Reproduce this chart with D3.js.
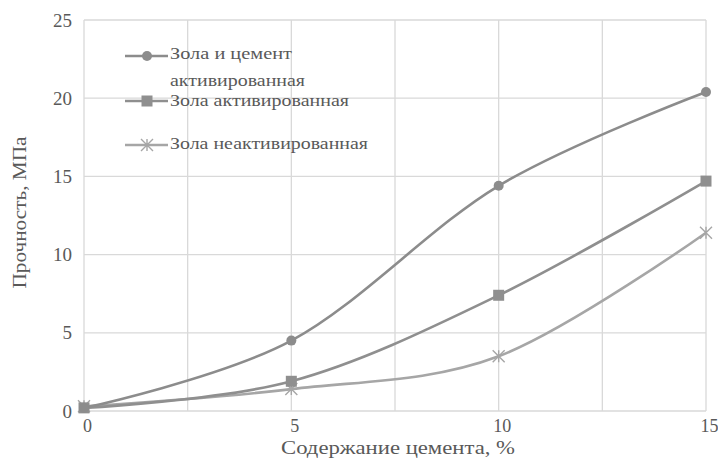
<!DOCTYPE html>
<html>
<head>
<meta charset="utf-8">
<script src="https://cdn.jsdelivr.net/npm/d3@7"></script>
<style>
  body { margin: 0; background: #fff; }
  svg text { font-family: "Times New Roman", "Liberation Serif", "DejaVu Serif", serif; }
</style>
</head>
<body>
<div id="chart"></div>
<script>
// data
var cement = [0, 5, 10, 15]
var ashCementActivated = [0.2, 4.5, 14.4, 20.4]
var ashActivated = [0.2, 1.9, 7.4, 14.7]
var ashNotActivated = [0.3, 1.4, 3.5, 11.4]
var xTicks = [0, 5, 10, 15]
var yTicks = [0, 5, 10, 15, 20, 25]
var seriesNames = ["Зола и цемент активированная", "Зола активированная", "Зола неактивированная"]

var W = 718, H = 459
var margin = {top: 20, right: 12, bottom: 48, left: 84}
var width = W - margin.left - margin.right,
    height = H - margin.top - margin.bottom

var svg = d3.select("#chart").append("svg")
    .attr("width", W).attr("height", H)
  .append("g")
    .attr("transform", "translate(" + margin.left + "," + margin.top + ")")

var x = d3.scaleLinear().domain([0, 15]).range([0, width])
var y = d3.scaleLinear().domain([0, 25]).range([height, 0])

// grid
svg.append("g").selectAll("line").data(d3.range(0, 15.01, 2.5)).enter().append("line")
  .attr("x1", d => x(d)).attr("x2", d => x(d)).attr("y1", 0).attr("y2", height)
  .style("stroke", "#d9d9d9").style("stroke-width", 1.3)
svg.append("g").selectAll("line").data(yTicks).enter().append("line")
  .attr("x1", 0).attr("x2", width).attr("y1", d => y(d)).attr("y2", d => y(d))
  .style("stroke", "#d9d9d9").style("stroke-width", 1.3)

// axes
var xAxis = svg.append("g").attr("transform", "translate(0," + height + ")")
  .call(d3.axisBottom(x).tickValues(xTicks).tickSize(0).tickPadding(8))
xAxis.select(".domain").remove()
xAxis.selectAll("text").style("font-size", "18px").style("fill", "#595959").attr("dx", 3)

var yAxis = svg.append("g")
  .call(d3.axisLeft(y).tickValues(yTicks).tickSize(0).tickPadding(12))
yAxis.select(".domain").remove()
yAxis.selectAll("text").style("font-size", "19px").style("fill", "#595959")

svg.append("text").attr("x", 398 - margin.left).attr("y", 454 - margin.top)
  .attr("text-anchor", "middle").style("font-size", "18px").style("fill", "#595959")
  .attr("textLength", 234).attr("lengthAdjust", "spacingAndGlyphs")
  .text("Содержание цемента, %")
svg.append("text")
  .attr("transform", "translate(" + (-58) + "," + (height / 2 - 3) + ")rotate(-90)")
  .attr("text-anchor", "middle").style("font-size", "19px").style("fill", "#595959")
  .attr("textLength", 152).attr("lengthAdjust", "spacingAndGlyphs")
  .text("Прочность, МПа")

var line = d3.line().x(d => x(d[0])).y(d => y(d[1])).curve(d3.curveCardinal.tension(0))
var series = [
  {vals: ashNotActivated, color: "#a6a6a6", marker: "star"},
  {vals: ashActivated, color: "#8f8f8f", marker: "square"},
  {vals: ashCementActivated, color: "#8c8c8c", marker: "circle"}
]

function drawMarker(g, type, color) {
  if (type == "circle") {
    g.append("circle").attr("r", 5).style("fill", color)
  } else if (type == "square") {
    g.append("rect").attr("x", -5.5).attr("y", -5.5).attr("width", 11).attr("height", 11).style("fill", color)
  } else {
    g.append("path").attr("d", "M-6,-6L6,6M-6,6L6,-6M0,-6L0,6")
      .style("stroke", color).style("stroke-width", 1.4).style("fill", "none")
  }
}

series.forEach(function(s) {
  var pts = cement.map((c, i) => [c, s.vals[i]])
  svg.append("path").datum(pts).attr("d", line)
    .style("fill", "none").style("stroke", s.color).style("stroke-width", 2.6)
  pts.forEach(function(p) {
    var g = svg.append("g").attr("transform", "translate(" + x(p[0]) + "," + y(p[1]) + ")")
    drawMarker(g, s.marker, s.color)
  })
})

// legend
var legendY = [36, 81, 125]
var legendSeries = [series[2], series[1], series[0]]
for (let i = 0; i < 3; i++) {
  var ly = legendY[i]
  var s = legendSeries[i]
  svg.append("line").attr("x1", 41).attr("x2", 84).attr("y1", ly).attr("y2", ly)
    .style("stroke", s.color).style("stroke-width", 2.6)
  var g = svg.append("g").attr("transform", "translate(63," + ly + ")")
  drawMarker(g, s.marker, s.color)
}
function legendText(yy, txt, len) {
  return svg.append("text").attr("x", 86).attr("y", yy).style("font-size", "17px")
    .style("fill", "#595959").attr("dominant-baseline", "middle")
    .attr("textLength", len).attr("lengthAdjust", "spacingAndGlyphs").text(txt)
}
legendText(35, "Зола и цемент", 122)
legendText(62, "активированная", 135)
legendText(82, seriesNames[1], 179)
legendText(125, seriesNames[2], 198)
</script>
</body>
</html>
